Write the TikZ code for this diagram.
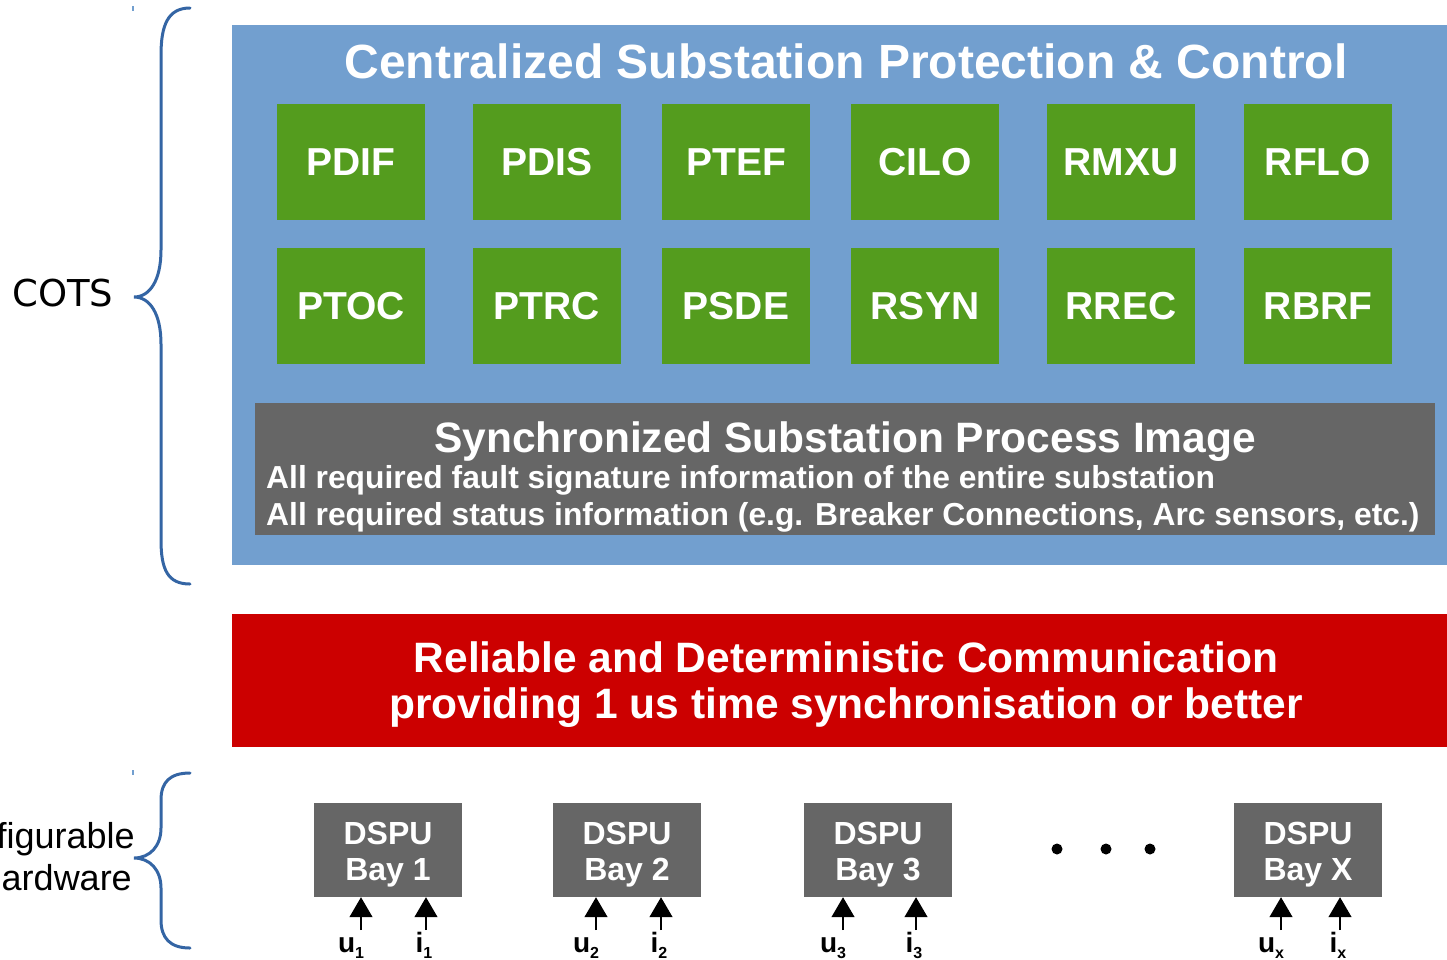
\documentclass[tikz,border=0pt]{standalone}
\usepackage{fontspec}
\setmainfont{Liberation Sans}
\newfontfamily\dejavu{DejaVu Sans}
\usetikzlibrary{arrows.meta}
\definecolor{cotsblue}{RGB}{114,159,207}
\definecolor{lngreen}{RGB}{84,156,30}
\definecolor{boxgray}{RGB}{102,102,102}
\definecolor{commred}{RGB}{204,0,0}
\definecolor{bracecol}{RGB}{52,101,164}
\newcommand{\sigsub}[1]{\raisebox{-6pt}{\fontsize{16}{16}\selectfont #1}}
\tikzset{
  lnbox/.style={fill=lngreen, draw=none, minimum width=148pt, minimum height=116pt,
    inner sep=0pt, text=white, font=\bfseries\fontsize{39}{39}\selectfont},
  dspubox/.style={fill=boxgray, draw=none, minimum width=148pt, minimum height=94pt,
    inner sep=0pt},
  dsputext/.style={inner sep=0pt, text=white, align=center, font=\bfseries\fontsize{32}{36}\selectfont},
  brace/.style={draw=bracecol, line width=3pt, line cap=round},
  inarrow/.style={line width=1.3pt, -{Triangle[width=23pt,length=20pt]}},
  sig/.style={inner sep=0pt, anchor=base, font=\bfseries\fontsize{28}{28}\selectfont},
  sidelabel/.style={inner sep=0pt, text=black},
  whitetext/.style={inner sep=0pt, text=white},
}
\begin{document}
\begin{tikzpicture}[x=1pt,y=-1pt]
\clip (0,0) rectangle (1447,959);

% upper layer: centralized protection & control
\node[fill=cotsblue, minimum width=1215pt, minimum height=540pt, inner sep=0pt, anchor=north west]
  (cpc) at (232,25) {};
\node[whitetext, anchor=base, font=\bfseries\fontsize{48}{48}\selectfont]
  (cpctitle) at (846,78) {Centralized Substation Protection \& Control};

% logical nodes
\foreach \nm/\x/\y in {PDIF/351/162, PDIS/547/162, PTEF/736/162, CILO/925/162, RMXU/1121/162, RFLO/1318/162,
                       PTOC/351/306, PTRC/547/306, PSDE/736/306, RSYN/925/306, RREC/1121/306, RBRF/1318/306}
  \node[lnbox] (ln\nm) at (\x,\y) {\nm};

% process image
\node[fill=boxgray, minimum width=1180pt, minimum height=132pt, inner sep=0pt, anchor=north west]
  (spi) at (255,403) {};
\node[whitetext, anchor=base, font=\bfseries\fontsize{42.5}{42.5}\selectfont]
  (spititle) at (845,452) {Synchronized Substation Process Image};
\node[whitetext, anchor=base west, font=\bfseries\fontsize{31.8}{31.8}\selectfont]
  (spiline1) at (266,488) {All required fault signature information of the entire substation};
\node[whitetext, anchor=base west, font=\bfseries\fontsize{31.8}{31.8}\selectfont]
  (spiline2) at (266,525) {All required status information (e.g. Breaker Connections, Arc sensors, etc.)};

% communication layer
\node[fill=commred, minimum width=1215pt, minimum height=133pt, inner sep=0pt, anchor=north west]
  (comm) at (232,614) {};
\node[whitetext, anchor=base, font=\bfseries\fontsize{42.5}{42.5}\selectfont]
  (commline1) at (846,672) {Reliable and Deterministic Communication};
\node[whitetext, anchor=base, font=\bfseries\fontsize{42.5}{42.5}\selectfont]
  (commline2) at (846,718) {providing 1 us time synchronisation or better};

% bay units
\foreach \b/\x/\t in {bay1/388/1, bay2/627/2, bay3/878/3, bayx/1308/X} {
  \node[dspubox] (\b) at (\x,850) {};
  \node[dsputext] (\b txt) at ([yshift=-5pt]\b.center) {DSPU\\Bay \t};
}

% dots between bays
\foreach \x/\n in {1057/a,1106/b,1150/c}
  \node[circle, fill=black, minimum size=11pt, inner sep=0pt] (dot\n) at (\x,849) {};

% measurement inputs
\foreach \b/\ux/\ix/\s in {bay1/361/426/1, bay2/596/661/2, bay3/843/916/3, bayx/1281/1340/x} {
  \coordinate (u\s) at (\ux,930);
  \coordinate (i\s) at (\ix,930);
  \draw[inarrow] (u\s) -- (u\s |- \b.south);
  \draw[inarrow] (i\s) -- (i\s |- \b.south);
  \node[sig] (ulab\s) at ([xshift=-10pt]u\s |- 0,952) {u\sigsub{\s}};
  \node[sig] (ilab\s) at ([xshift=-2pt]i\s |- 0,952) {i\sigsub{\s}};
}

% braces
\draw[brace] (190,8) .. controls (168,8) and (161,25) .. (161,55) -- (161,250)
  .. controls (161,280) and (150,297) .. (134,297)
  .. controls (150,297) and (161,314) .. (161,344) -- (161,540)
  .. controls (161,570) and (168,584) .. (190,584);
\draw[brace] (190,773) .. controls (170,773) and (161,782) .. (161,800) -- (161,828)
  .. controls (161,846) and (150,858) .. (134,858)
  .. controls (150,858) and (161,870) .. (161,888) -- (161,920)
  .. controls (161,938) and (170,948) .. (190,948);
\draw[draw=cotsblue, line width=1.5pt] (133,6) -- (133,11);
\draw[draw=cotsblue, line width=1.5pt] (133,770) -- (133,775);

% side labels
\node[sidelabel, anchor=base west, font=\dejavu\fontsize{37}{37}\selectfont] (cots) at (12,306) {COTS};
\node[sidelabel, anchor=base east, font=\fontsize{36}{36}\selectfont] (hw1) at (135,848) {Configurable};
\node[sidelabel, anchor=base east, font=\fontsize{36}{36}\selectfont] (hw2) at (132,890) {Hardware};
\end{tikzpicture}
\end{document}
